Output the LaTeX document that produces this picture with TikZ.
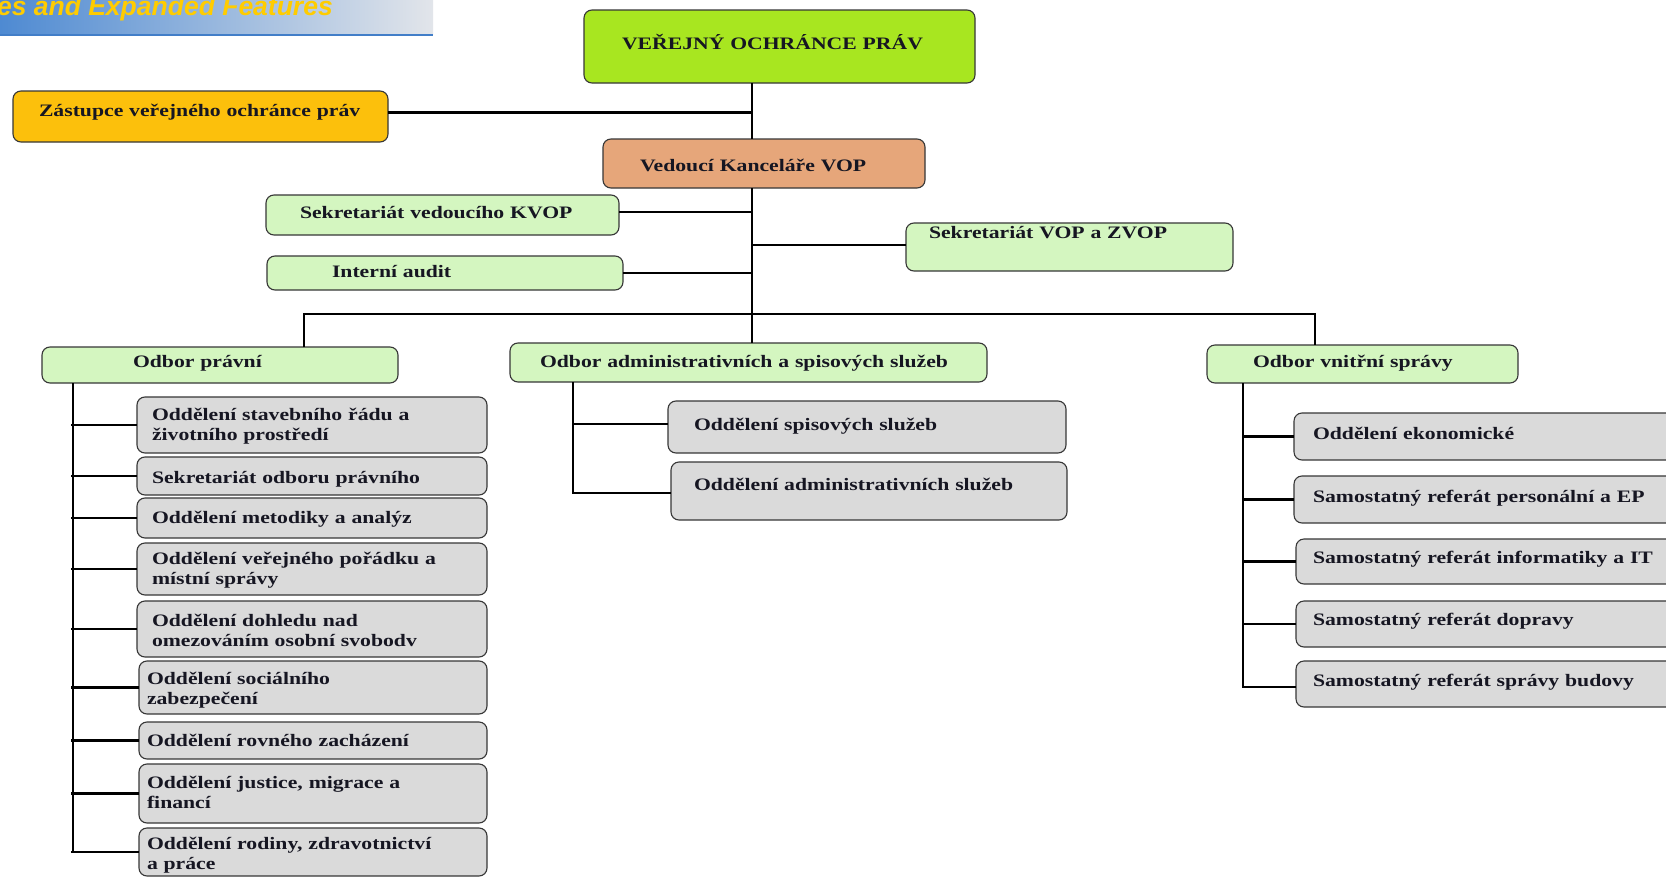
\documentclass[tikz,border=0pt]{standalone}
\usepackage{fontspec}
\setmainfont{Liberation Serif}[FakeStretch=1.24]
\newfontfamily\bannerfont{Liberation Sans}
\usetikzlibrary{calc}
\definecolor{lime}{RGB}{168,230,32}
\definecolor{amber}{RGB}{252,192,12}
\definecolor{salmon}{RGB}{230,166,122}
\definecolor{lgreen}{RGB}{212,246,192}
\definecolor{lgray}{RGB}{218,218,218}
\definecolor{boxline}{RGB}{55,55,55}
\definecolor{txtc}{RGB}{22,22,34}
\definecolor{bnL}{RGB}{78,138,210}
\definecolor{bnM}{RGB}{150,184,224}
\definecolor{bnR}{RGB}{226,229,234}
\definecolor{bnline}{RGB}{66,126,200}
\definecolor{bnY}{RGB}{255,204,0}
\newcommand{\obox}[6]{\node[#2, minimum width={(#5-#3)*1pt}, minimum height={(#6-#4)*1pt}] (#1) at ({(#3+#5)/2},{(#4+#6)/2}) {};}
\newcommand{\otext}[4]{\node[txt] (#1) at (#2,#3) {#4};}
\begin{document}
\begin{tikzpicture}[x=1pt,y=-1pt,
  box/.style={draw=boxline, line width=1.1pt, rounded corners=8pt, inner sep=0pt, outer sep=0pt},
  grn/.style={box, fill=lgreen},
  gry/.style={box, fill=lgray},
  txt/.style={anchor=base west, inner sep=0pt, outer sep=0pt, text=txtc, text width=560pt, align=left,
    font=\fontsize{17.5}{20}\selectfont\bfseries},
  conn/.style={line width=2.6pt, draw=black}]
\useasboundingbox (0,0) rectangle (1666,878);
\begin{scope}
\clip (0,0) rectangle (1666,878);
\fill[white] (0,0) rectangle (1666,878);
% banner
\shade[left color=bnL, middle color=bnM, right color=bnR] (0,0) rectangle (433,34);
\draw[line width=2pt, bnline] (0,35) -- (433,35);
\node[anchor=base east, inner sep=0pt, text=bnY, font=\bannerfont\fontsize{26.5}{30}\selectfont\bfseries\itshape] (ban) at (333,15) {es and Expanded Features};
% boxes
\obox{vop}{box, fill=lime}{584}{10}{975}{83}
\obox{zas}{box, fill=amber}{13}{91}{388}{142}
\obox{ved}{box, fill=salmon}{603}{139}{925}{188}
\obox{skv}{grn}{266}{195}{619}{235}
\obox{aud}{grn}{267}{256}{623}{290}
\obox{svz}{grn}{906}{223}{1233}{271}
\obox{prav}{grn}{42}{347}{398}{383}
\obox{adm}{grn}{510}{343}{987}{382}
\obox{vni}{grn}{1207}{345}{1518}{383}
\obox{p1}{gry}{137}{397}{487}{453}
\obox{p2}{gry}{137}{457}{487}{495}
\obox{p3}{gry}{137}{498}{487}{538}
\obox{p4}{gry}{137}{543}{487}{595}
\obox{p5}{gry}{137}{601}{487}{657}
\obox{p6}{gry}{139}{661}{487}{714}
\obox{p7}{gry}{139}{722}{487}{759}
\obox{p8}{gry}{139}{764}{487}{823}
\obox{p9}{gry}{139}{828}{487}{876}
\obox{a1}{gry}{668}{401}{1066}{453}
\obox{a2}{gry}{671}{462}{1067}{520}
\obox{v1}{gry}{1294}{413}{1700}{460}
\obox{v2}{gry}{1294}{476}{1700}{523}
\obox{v3}{gry}{1296}{539}{1700}{584}
\obox{v4}{gry}{1296}{601}{1700}{647}
\obox{v5}{gry}{1296}{661}{1700}{707}
% texts
\otext{tvop}{622}{49}{VEŘEJNÝ OCHRÁNCE PRÁV}
\otext{tzas}{39}{116}{Zástupce veřejného ochránce práv}
\otext{tved}{640}{171}{Vedoucí Kanceláře VOP}
\otext{tskv}{300}{218}{Sekretariát vedoucího KVOP}
\otext{taud}{332}{277}{Interní audit}
\otext{tsvz}{929}{238}{Sekretariát VOP a ZVOP}
\otext{tprav}{133}{367}{Odbor právní}
\otext{tadm}{540}{367}{Odbor administrativních a spisových služeb}
\otext{tvni}{1253}{367}{Odbor vnitřní správy}
\otext{tp1}{152}{420}{Oddělení stavebního řádu a\\životního prostředí}
\otext{tp2}{152}{483}{Sekretariát odboru právního}
\otext{tp3}{152}{523}{Oddělení metodiky a analýz}
\otext{tp4}{152}{564}{Oddělení veřejného pořádku a\\místní správy}
\otext{tp5}{152}{626}{Oddělení dohledu nad\\omezováním osobní svobodv}
\otext{tp6}{147}{684}{Oddělení sociálního\\zabezpečení}
\otext{tp7}{147}{746}{Oddělení rovného zacházení}
\otext{tp8}{147}{788}{Oddělení justice, migrace a\\financí}
\otext{tp9}{147}{849}{Oddělení rodiny, zdravotnictví\\a práce}
\otext{ta1}{694}{430}{Oddělení spisových služeb}
\otext{ta2}{694}{490}{Oddělení administrativních služeb}
\otext{tv1}{1313}{439}{Oddělení ekonomické}
\otext{tv2}{1313}{502}{Samostatný referát personální a EP}
\otext{tv3}{1313}{563}{Samostatný referát informatiky a IT}
\otext{tv4}{1313}{625}{Samostatný referát dopravy}
\otext{tv5}{1313}{686}{Samostatný referát správy budovy}
% connector coordinates
\coordinate (tx) at (752,0);
\coordinate (lx) at (73,0);
\coordinate (mx) at (573,0);
\coordinate (rx) at (1243,0);
\coordinate (bl) at (304,314);
\coordinate (br) at (1315,314);
% trunk
\draw[conn] (vop.south -| tx) -- (ved.north -| tx);
\draw[conn] (ved.south -| tx) -- (adm.north -| tx);
\draw[conn] ([yshift=4pt]zas.east) -- ([yshift=4pt]zas.east -| tx);
\draw[conn] ([yshift=3pt]skv.east) -- ([yshift=3pt]skv.east -| tx);
\draw[conn] (aud.east) -- (aud.east -| tx);
\draw[conn] ([yshift=2pt]svz.west -| tx) -- ([yshift=2pt]svz.west);
% bus
\draw[conn] (prav.north -| bl) -- (bl) -- (br) -- (vni.north -| br);
% left column
\draw[conn] (prav.south -| lx) -- (lx |- p9.west);
\foreach \n in {p1,p2,p3,p4,p5,p6,p7,p8,p9}
  \draw[conn] ([xshift=-2pt]lx |- \n.west) -- (\n.west);
% middle column
\draw[conn] (adm.south -| mx) -- ([yshift=-2pt]mx |- a2.west) -- ([yshift=-2pt]a2.west);
\draw[conn] ([yshift=3pt]mx |- a1.west) -- ([yshift=3pt]a1.west);
% right column
\draw[conn] (vni.south -| rx) -- ([yshift=-3pt]rx |- v5.west) -- ([yshift=-3pt]v5.west);
\foreach \n in {v1,v2,v3,v4}
  \draw[conn] (rx |- \n.west) -- (\n.west);
\end{scope}
\end{tikzpicture}
\end{document}
